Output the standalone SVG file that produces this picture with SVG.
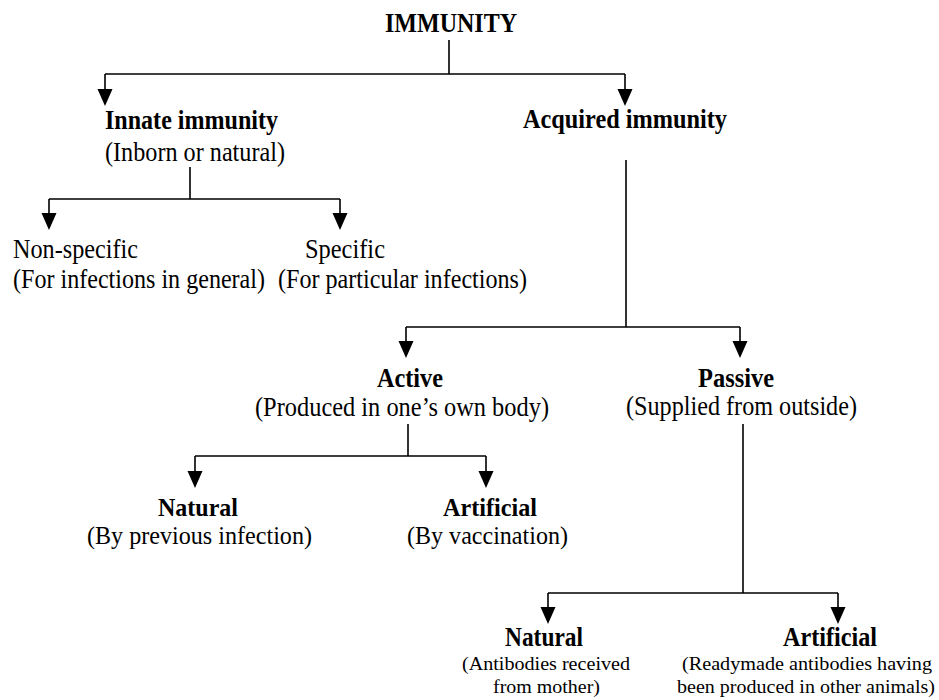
<svg xmlns="http://www.w3.org/2000/svg" width="939" height="700" viewBox="0 0 939 700" font-family="'Liberation Serif', 'Times New Roman', serif">
<defs>
<style>
text{font-family:"Liberation Serif","Times New Roman",serif;fill:#000}
.b{font-weight:bold;font-size:27px}
.t{font-size:27px}
.m{font-size:25px}
.s{font-size:18px}
.ln{stroke:#000;stroke-width:1.6;fill:none}
.hd{fill:#000;stroke:none}
</style>
</defs>
<rect width="939" height="700" fill="#fff"/>
<g id="connectors">
<path class="ln" d="M449,40 V74 M105,74 H625 M105,74 V90 M625,74 V90"/>
<path class="hd" d="M97.5,89 H112.5 L105,106 Z M617.5,89 H632.5 L625,106 Z"/>
<path class="ln" d="M190,167 V199 M49,199 H340 M49,199 V214 M340,199 V214"/>
<path class="hd" d="M41.5,213 H56.5 L49,230 Z M332.5,213 H347.5 L340,230 Z"/>
<path class="ln" d="M626,160 V327 M406,327 H740 M406,327 V342 M740,327 V342"/>
<path class="hd" d="M398.5,341 H413.5 L406,358 Z M732.5,341 H747.5 L740,358 Z"/>
<path class="ln" d="M408,424 V456 M195,456 H486 M195,456 V472 M486,456 V472"/>
<path class="hd" d="M187.5,471 H202.5 L195,488 Z M478.5,471 H493.5 L486,488 Z"/>
<path class="ln" d="M743,424 V593 M548,593 H838 M548,593 V608 M838,593 V608"/>
<path class="hd" d="M540.5,607 H555.5 L548,624 Z M830.5,607 H845.5 L838,624 Z"/>
</g>
<g id="immunity"><text class="b" style="font-size:28px" x="385" y="32" textLength="132" lengthAdjust="spacingAndGlyphs">IMMUNITY</text></g>
<g id="innate">
<text class="b" x="105" y="129" textLength="173" lengthAdjust="spacingAndGlyphs">Innate immunity</text>
<text class="t" x="105" y="161" textLength="180" lengthAdjust="spacingAndGlyphs">(Inborn or natural)</text>
</g>
<g id="acquired"><text class="b" x="523" y="128" textLength="204" lengthAdjust="spacingAndGlyphs">Acquired immunity</text></g>
<g id="nonspecific">
<text class="t" x="13" y="258" textLength="125" lengthAdjust="spacingAndGlyphs">Non-specific</text>
<text class="t" x="13" y="288" textLength="252" lengthAdjust="spacingAndGlyphs">(For infections in general)</text>
</g>
<g id="specific">
<text class="t" x="305" y="258" textLength="80" lengthAdjust="spacingAndGlyphs">Specific</text>
<text class="t" x="278" y="288" textLength="249" lengthAdjust="spacingAndGlyphs">(For particular infections)</text>
</g>
<g id="active">
<text class="b" x="377" y="387" textLength="66" lengthAdjust="spacingAndGlyphs">Active</text>
<text class="t" x="255" y="416" textLength="294" lengthAdjust="spacingAndGlyphs">(Produced in one’s own body)</text>
</g>
<g id="passive">
<text class="b" x="698" y="387" textLength="76" lengthAdjust="spacingAndGlyphs">Passive</text>
<text class="t" x="626" y="415" textLength="231" lengthAdjust="spacingAndGlyphs">(Supplied from outside)</text>
</g>
<g id="active-natural">
<text class="b" style="font-size:25px" x="158" y="516" textLength="80" lengthAdjust="spacingAndGlyphs">Natural</text>
<text class="m" x="87" y="544" textLength="225" lengthAdjust="spacingAndGlyphs">(By previous infection)</text>
</g>
<g id="active-artificial">
<text class="b" style="font-size:25px" x="443" y="516" textLength="94" lengthAdjust="spacingAndGlyphs">Artificial</text>
<text class="m" x="407" y="544" textLength="161" lengthAdjust="spacingAndGlyphs">(By vaccination)</text>
</g>
<g id="passive-natural">
<text class="b" x="505" y="646" textLength="78" lengthAdjust="spacingAndGlyphs">Natural</text>
<text class="s" x="462" y="670" textLength="168" lengthAdjust="spacingAndGlyphs">(Antibodies received</text>
<text class="s" x="493" y="693" textLength="107" lengthAdjust="spacingAndGlyphs">from mother)</text>
</g>
<g id="passive-artificial">
<text class="b" x="783" y="646" textLength="94" lengthAdjust="spacingAndGlyphs">Artificial</text>
<text class="s" x="682" y="670" textLength="250" lengthAdjust="spacingAndGlyphs">(Readymade antibodies having</text>
<text class="s" x="677" y="693" textLength="258" lengthAdjust="spacingAndGlyphs">been produced in other animals)</text>
</g>
</svg>
